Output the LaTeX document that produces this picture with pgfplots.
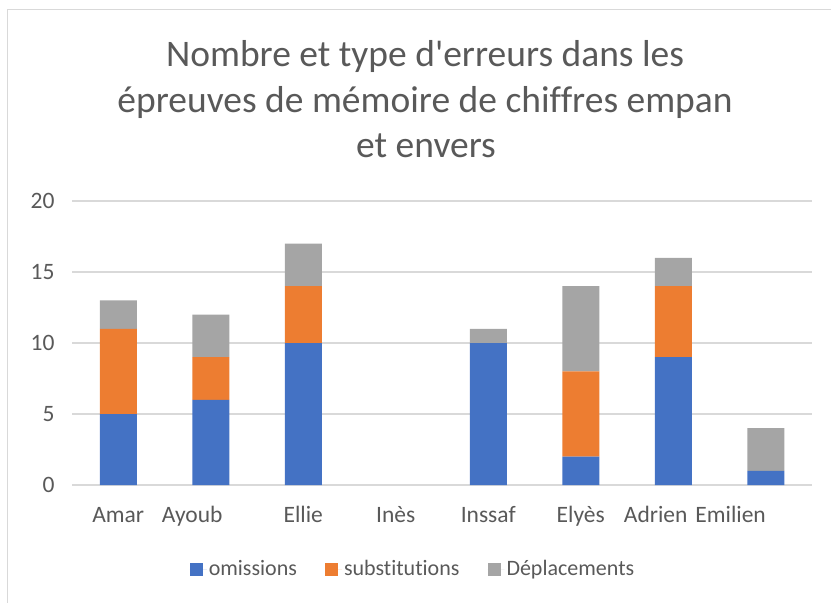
\documentclass[border=0pt]{standalone}
\usepackage{pgfplots}
\pgfplotsset{compat=1.18}
\usepackage{fontspec}
\setmainfont{Carlito}[Ligatures={TeXOff,CommonOff}]
\definecolor{cblue}{HTML}{4472C4}
\definecolor{corange}{HTML}{ED7D31}
\definecolor{cgray}{HTML}{A5A5A5}
\definecolor{ctext}{HTML}{595959}
\definecolor{cgrid}{HTML}{D9D9D9}
\begin{document}
\begin{tikzpicture}
\useasboundingbox (-72bp,-118bp) rectangle (759bp,485bp);
\draw[cgrid, line width=1bp] (-64bp,-118bp) -- (-64bp,475bp) -- (759bp,475bp);
\begin{axis}[
  at={(0,0)}, anchor=south west,
  scale only axis, width=740bp, height=284bp,
  ybar stacked, bar width=37bp,
  xmin=-0.5, xmax=7.5, ymin=0, ymax=20,
  ytick={0,5,10,15,20},
  xtick={0,0.8,2,3,4,5,5.81,6.62},
  xticklabels={Amar,Ayoub,Ellie,Inès,Inssaf,Elyès,Adrien,Emilien},
  major tick length=0pt,
  axis line style={draw=none},
  ymajorgrids, grid style={cgrid, line width=1.2bp},
  /pgf/number format/assume math mode=true,
  tick label style={font=\fontsize{23.5bp}{28bp}\selectfont, text=ctext},
  yticklabel style={anchor=east, xshift=-14bp},
  xticklabel style={anchor=base, yshift=-37bp},
  legend columns=3,
  legend style={draw=none, fill=none, at={(341bp,-84bp)}, anchor=center,
    font=\fontsize{22bp}{26bp}\selectfont, text=ctext,
    /tikz/every even column/.append style={column sep=26bp},
    nodes={inner sep=2bp}},
  legend image code/.code={\path (0bp,0bp) -- (17bp,0bp);\fill[#1] (0bp,-6.5bp) rectangle (13bp,6.5bp);},
]
\addplot[fill=cblue, draw=none] coordinates {(0,5) (1,6) (2,10) (3,0) (4,10) (5,2) (6,9) (7,1)};
\addplot[fill=corange, draw=none] coordinates {(0,6) (1,3) (2,4) (3,0) (4,0) (5,6) (6,5) (7,0)};
\addplot[fill=cgray, draw=none] coordinates {(0,2) (1,3) (2,3) (3,0) (4,1) (5,6) (6,2) (7,3)};
\legend{omissions,substitutions,Déplacements}
\end{axis}
\begin{scope}[every node/.style={font=\fontsize{37.5bp}{45bp}\selectfont, text=ctext, anchor=base, inner sep=0pt}]
\node at (353bp,418bp) {Nombre et type d'erreurs dans les};
\node at (353bp,372.5bp) {épreuves de mémoire de chiffres empan};
\node at (354bp,327bp) {et envers};
\end{scope}
\end{tikzpicture}
\end{document}
